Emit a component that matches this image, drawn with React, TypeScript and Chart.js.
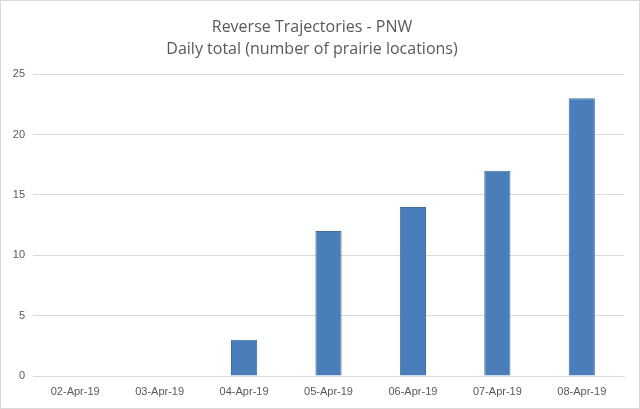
import React, { useEffect, useRef } from "react";
import { Chart, registerables } from "chart.js";

Chart.register(...registerables);

const categories = ["02-Apr-19", "03-Apr-19", "04-Apr-19", "05-Apr-19", "06-Apr-19", "07-Apr-19", "08-Apr-19"];
const values = [0, 0, 3, 12, 14, 17, 23];
const titleLines = ["Reverse Trajectories - PNW", "Daily total (number of prairie locations)"];

const borderPlugin = {
  id: "outerBorder",
  afterDraw(chart: any) {
    const ctx = chart.ctx;
    ctx.save();
    ctx.strokeStyle = "#d9d9d9";
    ctx.lineWidth = 1;
    ctx.strokeRect(0.5, 0.5, chart.width - 1, chart.height - 1);
    ctx.restore();
  },
};

export default function App() {
  const ref = useRef<HTMLCanvasElement>(null);
  useEffect(() => {
    document.body.style.margin = "0";
    const chart = new Chart(ref.current!, {
      type: "bar",
      data: {
        labels: categories,
        datasets: [
          {
            data: values,
            backgroundColor: "#4a7ebb",
            borderColor: "#41719c",
            borderWidth: 1,
            categoryPercentage: 1,
            barPercentage: 0.31,
          },
        ],
      },
      options: {
        animation: false,
        responsive: false,
        layout: { padding: { left: 0, right: 16, top: 0, bottom: 0 } },
        plugins: {
          legend: { display: false },
          tooltip: { enabled: false },
          title: {
            display: true,
            text: titleLines,
            color: "#595959",
            font: { family: "Open Sans", size: 16, weight: "normal", lineHeight: 1.38 },
            padding: { top: 16, bottom: 14 },
          },
        },
        scales: {
          x: {
            grid: { display: false, drawTicks: false },
            border: { display: true, color: "#d9d9d9" },
            ticks: { color: "#595959", font: { family: "Liberation Sans", size: 11 }, padding: 9, maxRotation: 0 },
            afterFit(scale: any) {
              scale.height = 33;
            },
          },
          y: {
            min: 0,
            max: 25,
            ticks: { stepSize: 5, color: "#595959", font: { family: "Liberation Sans", size: 11 }, padding: 8 },
            grid: { color: "#d9d9d9", drawTicks: false },
            border: { display: false },
            afterFit(scale: any) {
              scale.width = 33;
            },
          },
        },
      },
      plugins: [borderPlugin],
    });
    return () => chart.destroy();
  }, []);
  return (
    <div style={{ position: "absolute", left: 0, top: 0, width: 640, height: 409, background: "#fff" }}>
      <canvas ref={ref} width={640} height={409} style={{ width: 640, height: 409 }} />
    </div>
  );
}
